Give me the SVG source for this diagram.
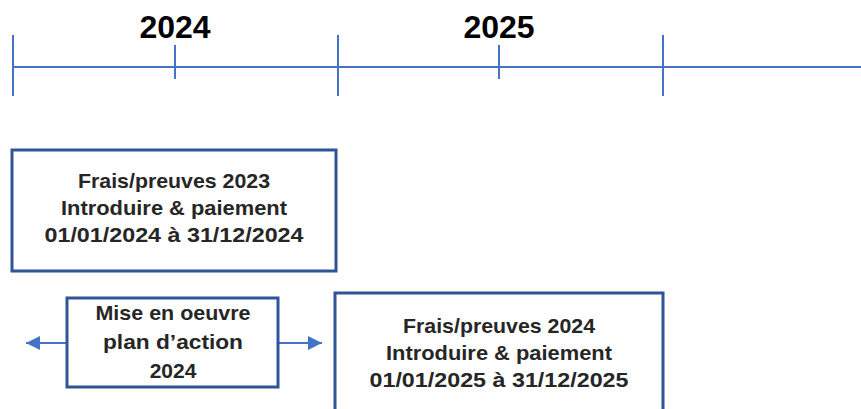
<svg xmlns="http://www.w3.org/2000/svg" width="861" height="409" viewBox="0 0 861 409">
<defs>
<style>
.axis{stroke:#4472C4;stroke-width:2;fill:none}
.box{fill:#fff;stroke:#2F5597;stroke-width:3}
.t{font-family:"Liberation Sans",Arial,sans-serif;font-weight:bold;font-size:21px;fill:#262626;text-anchor:middle}
.yr{font-family:"Liberation Sans",Arial,sans-serif;font-weight:bold;font-size:32px;fill:#000;text-anchor:middle}
.conn{stroke:#4472C4;stroke-width:2;fill:none}
</style>
<marker id="ah" viewBox="0 0 10 10" refX="10" refY="5" markerWidth="7" markerHeight="7" orient="auto" markerUnits="strokeWidth">
<path d="M0,0 L10,5 L0,10 z" fill="#4472C4"/>
</marker>
</defs>
<rect width="861" height="409" fill="#fff"/>
<g id="timeline">
<line class="axis" x1="13" y1="67" x2="861" y2="67"/>
<line class="axis" x1="13" y1="35" x2="13" y2="96"/>
<line class="axis" x1="175" y1="45" x2="175" y2="79"/>
<line class="axis" x1="338" y1="35" x2="338" y2="96" stroke-width="3"/>
<line class="axis" x1="499" y1="45" x2="499" y2="79"/>
<line class="axis" x1="663" y1="35" x2="663" y2="96"/>
<text class="yr" x="175" y="38">2024</text>
<text class="yr" x="499" y="38">2025</text>
</g>
<g id="connectors">
<line class="conn" x1="67" y1="343" x2="26" y2="343" marker-end="url(#ah)"/>
<line class="conn" x1="278" y1="343" x2="322" y2="343" marker-end="url(#ah)"/>
</g>
<g id="box2023">
<rect class="box" x="12" y="150" width="324" height="121"/>
<text class="t" x="174" y="188" textLength="192" lengthAdjust="spacingAndGlyphs">Frais/preuves 2023</text>
<text class="t" x="174" y="215" textLength="226" lengthAdjust="spacingAndGlyphs">Introduire &amp; paiement</text>
<text class="t" x="174" y="242" textLength="259" lengthAdjust="spacingAndGlyphs">01/01/2024 à 31/12/2024</text>
</g>
<g id="plan">
<rect class="box" x="67" y="298" width="211" height="89"/>
<text class="t" x="173" y="320" textLength="155" lengthAdjust="spacingAndGlyphs">Mise en oeuvre</text>
<text class="t" x="173" y="349" textLength="140" lengthAdjust="spacingAndGlyphs">plan d’action</text>
<text class="t" x="173" y="378">2024</text>
</g>
<g id="box2024">
<rect class="box" x="335" y="293" width="328" height="130"/>
<text class="t" x="499" y="333" textLength="192" lengthAdjust="spacingAndGlyphs">Frais/preuves 2024</text>
<text class="t" x="499" y="360" textLength="226" lengthAdjust="spacingAndGlyphs">Introduire &amp; paiement</text>
<text class="t" x="499" y="387" textLength="259" lengthAdjust="spacingAndGlyphs">01/01/2025 à 31/12/2025</text>
</g>
</svg>
